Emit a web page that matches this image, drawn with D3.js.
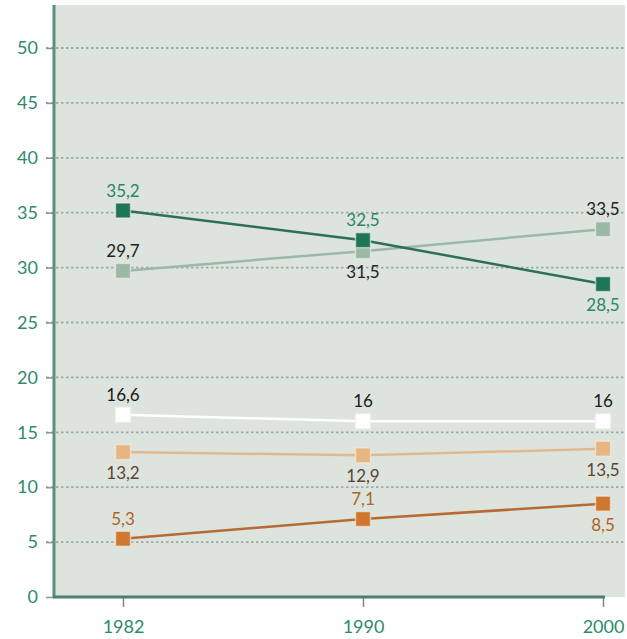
<!DOCTYPE html>
<html><head><meta charset="utf-8">
<script src="https://cdn.jsdelivr.net/npm/d3@7"></script>
<style>body{margin:0;background:#fff}svg{display:block}</style>
</head><body>
<script>
const years = ["1982","1990","2000"];
const yTicks = [0,5,10,15,20,25,30,35,40,45,50];
const darkGreen = [35.2,32.5,28.5];
const lightGreen = [29.7,31.5,33.5];
const whiteSeries = [16.6,16,16];
const lightOrange = [13.2,12.9,13.5];
const orange = [5.3,7.1,8.5];

const series = [
  {values: lightGreen, line:"#9cb8a6", fill:"#9cb8a6", text:"#222", pos:["above","below","above"]},
  {values: darkGreen, line:"#2d6f58", fill:"#1f7558", text:"#2a8666", pos:["above","above","below"]},
  {values: whiteSeries, line:"#ffffff", fill:"#ffffff", text:"#1a1a1a", pos:["above","above","above"]},
  {values: lightOrange, line:"#e2b98e", fill:"#e8b47f", text:"#5a4535", pos:["below","below","below"]},
  {values: orange, line:"#b86a35", fill:"#d0772f", text:"#b06228", pos:["above","above","below"]}
];

const W=627,H=639;
const svg=d3.select("body").append("svg").attr("width",W).attr("height",H);
const x=d3.scalePoint().domain(years).range([123,603]);
const y=d3.scaleLinear().domain([0,50]).range([597,48]);

svg.append("rect").attr("x",54).attr("y",5).attr("width",571).attr("height",592).attr("fill","#dde4dd");

// grid
svg.append("g").selectAll("line").data(yTicks.filter(d=>d>0)).join("line")
  .attr("x1",46).attr("x2",625).attr("y1",d=>y(d)).attr("y2",d=>y(d))
  .attr("stroke","#a0aaa4").attr("stroke-width",1.8).attr("stroke-dasharray","2.5,2.5");

// y axis
const ya=svg.append("g").attr("transform","translate(54,0)")
  .call(d3.axisLeft(y).tickValues(yTicks).tickSize(8).tickPadding(8).tickFormat(d3.format("d")));
ya.select(".domain").remove();
ya.selectAll(".tick line").attr("stroke","#8a9590").attr("stroke-width",1.5);
ya.selectAll("text").attr("fill","#2e8a6a").style("font-family","Lato, sans-serif").style("font-size","18px");
svg.append("line").attr("x1",54).attr("x2",54).attr("y1",5).attr("y2",598).attr("stroke","#5e8f7c").attr("stroke-width",3);

// x axis
const xa=svg.append("g").attr("transform","translate(0,598)")
  .call(d3.axisBottom(x).tickSize(9).tickPadding(13));
xa.select(".domain").remove();
xa.selectAll(".tick line").attr("stroke","#7d8a85").attr("stroke-width",1.5);
xa.selectAll("text").attr("fill","#2e8a6a").style("font-family","Lato, sans-serif").style("font-size","18px");
svg.append("line").attr("x1",53).attr("x2",605).attr("y1",597).attr("y2",597).attr("stroke","#4f7f6b").attr("stroke-width",3);

const line=d3.line().x((d,i)=>x(years[i])).y(d=>y(d));
const fmt=v=>String(v).replace(".",",");

series.forEach(s=>{
  svg.append("path").attr("d",line(s.values)).attr("fill","none").attr("stroke",s.line).attr("stroke-width",2.5);
});
series.forEach(s=>{
  svg.append("g").selectAll("rect").data(s.values).join("rect")
    .attr("x",(d,i)=>x(years[i])-7.5).attr("y",d=>y(d)-7.5).attr("width",15).attr("height",15)
    .attr("fill",s.fill).attr("stroke","#f2f0ea").attr("stroke-opacity",0.6).attr("stroke-width",1.5);
  svg.append("g").selectAll("text").data(s.values).join("text")
    .attr("x",(d,i)=>x(years[i])).attr("y",(d,i)=>s.pos[i]==="above"?y(d)-14:y(d)+27)
    .attr("text-anchor","middle").attr("fill",s.text)
    .style("font-family","Lato, sans-serif").style("font-size","17px").text(d=>fmt(d));
});
</script>
</body></html>
